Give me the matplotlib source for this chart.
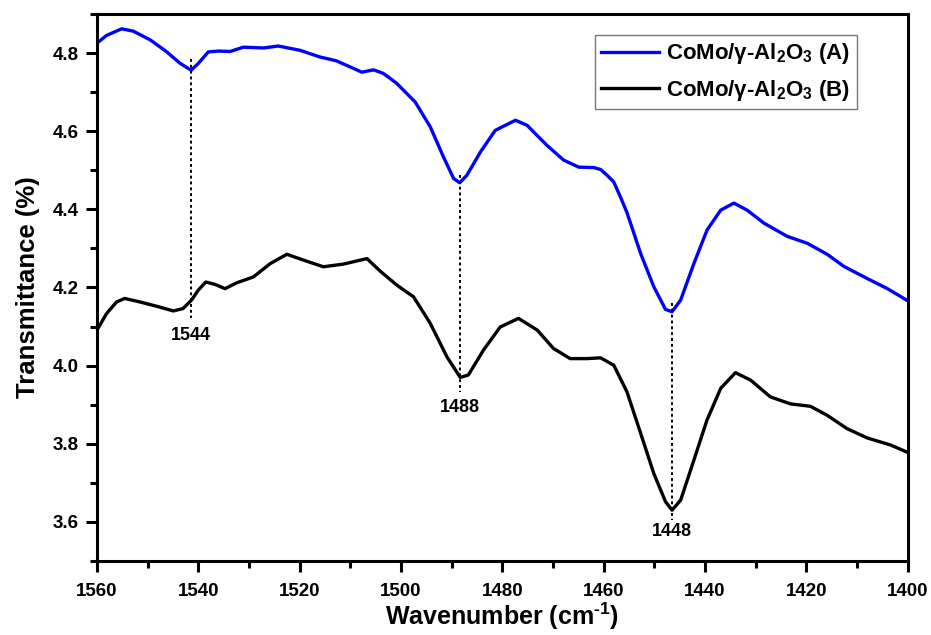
import numpy as np
import matplotlib
matplotlib.use("Agg")
import matplotlib.pyplot as plt

plt.rcParams['font.family'] = ['Liberation Sans', 'DejaVu Sans']
plt.rcParams['font.weight'] = 'bold'
plt.rcParams['mathtext.fontset'] = 'custom'
plt.rcParams['mathtext.rm'] = 'Liberation Sans:bold'
plt.rcParams['mathtext.bf'] = 'Liberation Sans:bold'

# FTIR spectrum, sample A
wn_a = [1560.0, 1558.1, 1555.1, 1552.8, 1549.5, 1546.2, 1543.6, 1541.4, 1540.0, 1538.0,
        1536.0, 1533.7, 1531.1, 1527.1, 1524.2, 1519.9, 1516.0, 1512.7, 1507.7, 1505.4,
        1503.5, 1502.1, 1500.8, 1497.2, 1494.2, 1491.6, 1489.6, 1488.4, 1487.0, 1484.3,
        1481.4, 1477.4, 1475.1, 1471.2, 1467.9, 1464.9, 1462.0, 1460.6, 1459.3, 1458.0,
        1456.7, 1455.4, 1452.7, 1450.1, 1447.8, 1446.5, 1444.8, 1442.2, 1439.6, 1436.9,
        1434.3, 1431.7, 1428.4, 1423.8, 1419.8, 1415.9, 1412.6, 1408.0, 1404.0, 1400.0]
tr_a = [4.825, 4.845, 4.862, 4.856, 4.834, 4.803, 4.774, 4.756, 4.773, 4.803,
        4.805, 4.804, 4.815, 4.813, 4.818, 4.807, 4.790, 4.780, 4.751, 4.757,
        4.748, 4.735, 4.722, 4.675, 4.611, 4.534, 4.479, 4.468, 4.487, 4.547,
        4.602, 4.628, 4.615, 4.564, 4.526, 4.508, 4.507, 4.502, 4.487, 4.470,
        4.432, 4.392, 4.287, 4.202, 4.144, 4.138, 4.168, 4.261, 4.347, 4.398,
        4.416, 4.398, 4.365, 4.331, 4.313, 4.285, 4.254, 4.223, 4.197, 4.166]

# FTIR spectrum, sample B
wn_b = [1560.0, 1558.1, 1556.1, 1554.5, 1551.5, 1548.2, 1544.9, 1543.0, 1541.3, 1540.0,
        1538.5, 1536.7, 1534.7, 1532.4, 1529.1, 1525.8, 1522.5, 1519.2, 1515.3, 1511.3,
        1506.7, 1504.1, 1500.8, 1497.5, 1494.2, 1490.9, 1488.3, 1486.7, 1483.7, 1480.4,
        1476.8, 1473.1, 1469.9, 1466.6, 1463.3, 1460.6, 1458.0, 1455.4, 1452.7, 1450.1,
        1447.8, 1446.5, 1444.8, 1442.2, 1439.6, 1436.9, 1434.0, 1431.0, 1427.1, 1423.1,
        1419.2, 1415.9, 1412.0, 1408.0, 1403.4, 1400.0]
tr_b = [4.090, 4.133, 4.163, 4.172, 4.163, 4.152, 4.140, 4.146, 4.168, 4.193,
        4.214, 4.208, 4.197, 4.212, 4.227, 4.261, 4.285, 4.270, 4.253, 4.260,
        4.274, 4.242, 4.206, 4.176, 4.108, 4.022, 3.970, 3.976, 4.040, 4.099,
        4.121, 4.091, 4.044, 4.018, 4.018, 4.020, 4.001, 3.933, 3.827, 3.724,
        3.652, 3.630, 3.656, 3.758, 3.861, 3.942, 3.982, 3.963, 3.920, 3.902,
        3.896, 3.873, 3.839, 3.815, 3.797, 3.778]

# marked bands: guide line position, span, and label
band_pos = [1541.4, 1488.4, 1446.6]
band_top = [4.786, 4.487, 4.161]
band_bot = [4.121, 3.933, 3.605]
band_lbl = ['1544', '1488', '1448']
band_lbl_y = [4.078, 3.894, 3.575]

fig = plt.figure(figsize=(9.31, 6.35), dpi=100)
ax = fig.add_axes([0.104, 0.1165, 0.871, 0.8615])

ax.plot(wn_a, tr_a, color='#0000ff', lw=2.4, solid_joinstyle='round',
        label='CoMo/γ-Al$_2$O$_3$ (A)')
ax.plot(wn_b, tr_b, color='black', lw=2.4, solid_joinstyle='round',
        label='CoMo/γ-Al$_2$O$_3$ (B)')

for x, y0, y1, t, ty in zip(band_pos, band_top, band_bot, band_lbl, band_lbl_y):
    ax.plot([x, x], [y0, y1], color='black', lw=1.4, ls=(0, (1.5, 1.5)))
    ax.text(x, ty, t, ha='center', va='center', fontsize=13, fontweight='bold')

ax.set_xlim(1560, 1400)
ax.set_ylim(3.5, 4.9)
ax.set_xticks(np.arange(1400, 1561, 20))
ax.set_xticks(np.arange(1400, 1561, 10), minor=True)
ax.set_yticks([3.6, 3.8, 4.0, 4.2, 4.4, 4.6, 4.8])
ax.set_yticks(np.arange(3.5, 4.91, 0.1), minor=True)
ax.tick_params(which='major', direction='out', length=8, width=2.2, labelsize=13.5, pad=5)
ax.tick_params(axis='x', which='major', pad=8)
ax.tick_params(which='minor', direction='out', length=5, width=2.2)
for lab in ax.get_xticklabels() + ax.get_yticklabels():
    lab.set_fontweight('bold')
for sp in ax.spines.values():
    sp.set_linewidth(2.2)

ax.set_xlabel(r'Wavenumber (cm$^{\text{-1}}$)', fontsize=18, fontweight='bold', labelpad=0)
ax.set_ylabel('Transmittance (%)', fontsize=18.5, fontweight='bold', labelpad=9)

leg = ax.legend(loc='upper right', bbox_to_anchor=(0.937, 0.962), borderaxespad=0,
                fontsize=16, frameon=True, fancybox=False, handlelength=2.6,
                handletextpad=0.3, borderpad=0.3, labelspacing=0.5)
leg.get_frame().set_edgecolor('#555555')
leg.get_frame().set_linewidth(1.0)
for t in leg.get_texts():
    t.set_fontweight('bold')

fig.savefig('out.png', dpi=100)
